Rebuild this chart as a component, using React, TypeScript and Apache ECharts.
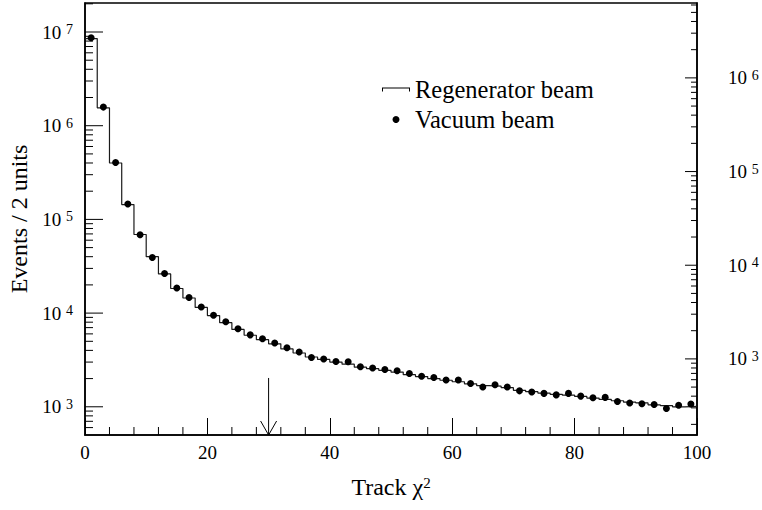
import React, { useEffect, useRef } from 'react';
import * as echarts from 'echarts';

// ---- data ----
const binWidth = 2;
// Vacuum beam (points, one per 2-unit bin, centres 1..99)
const vacuumBeam = [
  8.7e6, 1.58e6, 4.05e5, 1.46e5, 6.86e4, 3.92e4, 2.65e4, 1.85e4, 1.47e4, 1.16e4,
  9.5e3, 8.08e3, 6.8e3, 5.86e3, 5.33e3, 4.79e3, 4.27e3, 3.84e3, 3.36e3, 3.23e3,
  3.05e3, 3.02e3, 2.67e3, 2.59e3, 2.5e3, 2.42e3, 2.27e3, 2.12e3, 2.05e3, 1.93e3,
  1.93e3, 1.77e3, 1.63e3, 1.72e3, 1.63e3, 1.48e3, 1.44e3, 1.39e3, 1.34e3, 1.39e3,
  1.3e3, 1.25e3, 1.26e3, 1.14e3, 1.1e3, 1.08e3, 1.06e3, 960, 1.04e3, 1.07e3,
];
// Regenerator beam (histogram, same bins)
const regeneratorBeam = [
  8.5e6, 1.55e6, 4.0e5, 1.44e5, 6.9e4, 4.0e4, 2.62e4, 1.83e4, 1.45e4, 1.15e4,
  9.4e3, 7.9e3, 6.7e3, 5.8e3, 5.2e3, 4.7e3, 4.15e3, 3.75e3, 3.4e3, 3.2e3,
  3.0e3, 2.85e3, 2.65e3, 2.55e3, 2.45e3, 2.35e3, 2.2e3, 2.1e3, 2.0e3, 1.92e3,
  1.85e3, 1.76e3, 1.68e3, 1.66e3, 1.6e3, 1.5e3, 1.45e3, 1.4e3, 1.36e3, 1.33e3,
  1.29e3, 1.24e3, 1.2e3, 1.16e3, 1.12e3, 1.1e3, 1.05e3, 1.03e3, 1.0e3, 1.01e3,
];
const xMin = 0;
const xMax = 100;
const xInterval = 20;
const xMinorStep = 4;
const leftMin = 500;
const leftMax = 2.04e7;
const rightMin = 154;
const rightMax = 6.3e6;
const decadeExponents = [2, 3, 4, 5, 6, 7];
const minorMultipliers = [1, 2, 3, 4, 5, 6, 7, 8, 9];
const cutValue = 30;
const arrowTopValue = 2030;
const rightAnchorValue = 1e4;
const seriesNames = ['Regenerator beam', 'Vacuum beam'];
const yAxisName = 'Events / 2 units';

const FONT = '"Liberation Serif", "Times New Roman", Times, serif';

function logTicks(min: number, max: number) {
  const out: number[][] = [];
  for (let i = 0; i < decadeExponents.length; i++) {
    for (let j = 0; j < minorMultipliers.length; j++) {
      const m = minorMultipliers[j];
      const v = m * Math.pow(10, decadeExponents[i]);
      if (v > min && v < max) out.push([v, m === 1 ? 1 : 0]);
    }
  }
  return out;
}

function xMinorTicks() {
  const out: number[] = [];
  for (let v = xMin + xMinorStep; v < xMax; v += xMinorStep) {
    if (v % xInterval !== 0) out.push(v);
  }
  return out;
}

function powLabel(v: number) {
  const l = Math.log10(v);
  const r = Math.round(l);
  if (Math.abs(l - r) > 1e-6) return '';
  return `{a|10} {s|${r}}`;
}

const yRich = {
  a: { fontSize: 19, fontFamily: FONT, color: '#000', lineHeight: 19, verticalAlign: 'bottom' },
  s: { fontSize: 14, fontFamily: FONT, color: '#000', lineHeight: 14, verticalAlign: 'top', padding: [0, 0, 8, 0] },
};

export default function App() {
  const ref = useRef<HTMLDivElement>(null);
  useEffect(() => {
    if (!ref.current) return;
    const chart = echarts.init(ref.current, null, { renderer: 'svg' });

    const histData: number[][] = regeneratorBeam.map((v, i) => [xMin + i * binWidth, v]);
    histData.push([xMin + regeneratorBeam.length * binWidth, regeneratorBeam[regeneratorBeam.length - 1]]);
    const pointData = vacuumBeam.map((v, i) => [xMin + i * binWidth + binWidth / 2, v]);

    const leftTicks = logTicks(leftMin, leftMax);
    const rightTicks = logTicks(rightMin, rightMax);
    const xMinors = xMinorTicks();

    const tickStyle = () => ({ stroke: '#000', fill: 'none', lineWidth: 1 });

    const renderLeft = (params: any, api: any) => {
      const children: any[] = [];
      const top = api.coord([api.value(0), api.value(1)]);
      const bot = api.coord([api.value(0), leftMin]);
      children.push({ type: 'line', shape: { x1: top[0], y1: top[1], x2: bot[0], y2: bot[1] }, style: tickStyle() });
      children.push({
        type: 'polyline',
        shape: { points: [[bot[0] - 8, bot[1] - 14], [bot[0], bot[1]], [bot[0] + 8, bot[1] - 14]] },
        style: tickStyle(),
      });
      const x0 = api.coord([xMin, leftMin])[0];
      for (let i = 0; i < leftTicks.length; i++) {
        const y = api.coord([cutValue, leftTicks[i][0]])[1];
        const len = leftTicks[i][1] ? 18 : 8;
        children.push({ type: 'polyline', shape: { points: [[x0, y], [x0 + len, y]] }, style: tickStyle() });
      }
      for (let i = 0; i < xMinors.length; i++) {
        const p = api.coord([xMinors[i], leftMin]);
        children.push({ type: 'polyline', shape: { points: [[p[0], p[1]], [p[0], p[1] - 8]] }, style: tickStyle() });
      }
      return { type: 'group', children };
    };

    const renderRight = (params: any, api: any) => {
      const children: any[] = [];
      const x1 = api.coord([xMax, rightMin])[0];
      for (let i = 0; i < rightTicks.length; i++) {
        const y = api.coord([cutValue, rightTicks[i][0]])[1];
        const len = rightTicks[i][1] ? 12 : 6;
        children.push({ type: 'polyline', shape: { points: [[x1, y], [x1 - len, y]] }, style: tickStyle() });
      }
      return { type: 'group', children };
    };

    const labelStyle = { color: '#000', fontSize: 19, fontFamily: FONT };

    const option: any = {
      animation: false,
      backgroundColor: '#fff',
      grid: {
        left: 85, right: 65, top: 3, bottom: 75,
        show: true, borderColor: '#000', borderWidth: 1.5, backgroundColor: 'transparent',
        outerBoundsMode: 'none',
      },
      legend: {
        orient: 'vertical',
        left: 377,
        top: 72,
        itemWidth: 28,
        itemHeight: 7,
        itemGap: 5,
        itemTextGap: 18,
        selectedMode: false,
        textStyle: { color: '#000', fontSize: 24.5, fontFamily: FONT },
        data: [
          { name: seriesNames[0], icon: 'path://M0,4V0H28V4H27V1H1V4Z', itemStyle: { color: '#000', opacity: 1 } },
          { name: seriesNames[1], icon: 'circle', itemStyle: { color: '#000', opacity: 1 } },
        ],
      },
      xAxis: {
        type: 'value',
        min: xMin,
        max: xMax,
        interval: xInterval,
        axisLine: { show: true, lineStyle: { color: '#000', width: 1.5 } },
        axisTick: { show: true, inside: true, length: 17, lineStyle: { color: '#000', width: 1 } },
        minorTick: { show: false },
        splitLine: { show: false },
        minorSplitLine: { show: false },
        axisLabel: { ...labelStyle, margin: 8 },
        name: '{m|Track χ}{s|2}',
        nameLocation: 'middle',
        nameGap: 40,
        nameTextStyle: {
          color: '#000', fontSize: 24, fontFamily: FONT,
          rich: {
            m: { fontSize: 24, fontFamily: FONT, color: '#000', lineHeight: 24, verticalAlign: 'bottom' },
            s: { fontSize: 15, fontFamily: FONT, color: '#000', lineHeight: 15, verticalAlign: 'top', padding: [0, 0, 13, 0] },
          },
        },
      },
      yAxis: [
        {
          type: 'log',
          logBase: 10,
          min: leftMin,
          max: leftMax,
          position: 'left',
          axisLine: { show: true, lineStyle: { color: '#000', width: 1.5 } },
          axisTick: { show: false },
          minorTick: { show: false },
          splitLine: { show: false },
          axisLabel: { ...labelStyle, margin: 12, lineHeight: 19, formatter: powLabel, rich: yRich },
          name: yAxisName,
          nameLocation: 'middle',
          nameGap: 54,
          nameTextStyle: { color: '#000', fontSize: 24, fontFamily: FONT },
        },
        {
          type: 'log',
          logBase: 10,
          min: rightMin,
          max: rightMax,
          position: 'right',
          axisLine: { show: true, lineStyle: { color: '#000', width: 1.5 } },
          axisTick: { show: false },
          minorTick: { show: false },
          splitLine: { show: false },
          axisLabel: { ...labelStyle, margin: 31, lineHeight: 19, formatter: powLabel, rich: yRich },
        },
      ],
      series: [
        {
          name: seriesNames[0],
          type: 'line',
          step: 'end',
          data: histData,
          showSymbol: false,
          symbol: 'none',
          color: '#000',
          lineStyle: { color: '#1a1a1a', width: 1.2 },
          itemStyle: { color: '#000' },
          z: 2,
        },
        {
          name: seriesNames[1],
          type: 'scatter',
          data: pointData,
          symbol: 'circle',
          symbolSize: 7,
          color: '#000',
          itemStyle: { color: '#000', opacity: 1 },
          z: 3,
        },
        {
          type: 'custom',
          silent: true,
          yAxisIndex: 0,
          data: [[cutValue, arrowTopValue]],
          renderItem: renderLeft,
          z: 4,
        },
        {
          type: 'custom',
          silent: true,
          yAxisIndex: 1,
          data: [[cutValue, rightAnchorValue]],
          renderItem: renderRight,
          z: 4,
        },
      ],
    };
    chart.setOption(option);
    return () => chart.dispose();
  }, []);
  return <div ref={ref} style={{ position: 'absolute', left: 0, top: 0, width: 762, height: 510 }} />;
}
